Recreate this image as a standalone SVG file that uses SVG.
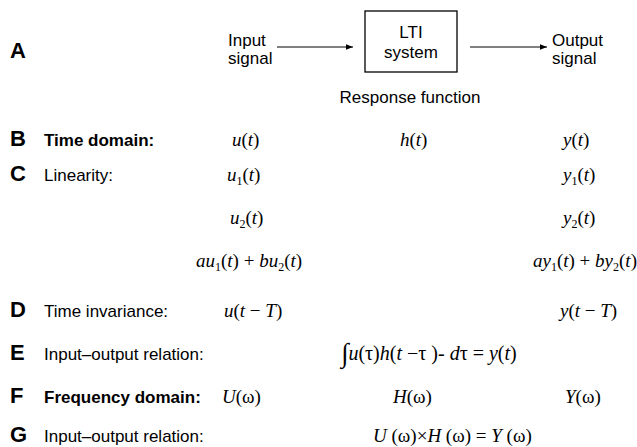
<svg xmlns="http://www.w3.org/2000/svg" width="637" height="447" viewBox="0 0 637 447">
<style>
.lbl{font-family:"Liberation Sans",Arial,sans-serif;font-size:22px;font-weight:bold;fill:#000}
.t{font-family:"Liberation Sans",Arial,sans-serif;font-size:17px;fill:#000}
.tb{font-family:"Liberation Sans",Arial,sans-serif;font-size:17px;font-weight:bold;fill:#000}
.m{font-family:"Liberation Serif","Times New Roman",serif;font-size:19px;fill:#000}
.i{font-style:italic}
.sub{font-size:12px}
.box{fill:#fff;stroke:#000;stroke-width:1.3}
.conn{stroke:#000;stroke-width:1;fill:none}
</style>
<defs>
<marker id="arr" viewBox="0 0 10 10" refX="10" refY="5" markerWidth="7" markerHeight="7" markerUnits="userSpaceOnUse" orient="auto">
<path d="M0,1 L10,5 L0,9 z" fill="#000"/>
</marker>
</defs>
<rect width="637" height="447" fill="#fff"/>

<text class="lbl" x="10" y="58">A</text>
<g id="input">
<text class="t" x="228" y="46">Input</text>
<text class="t" x="228" y="64">signal</text>
</g>
<g id="lti">
<rect class="box" x="365" y="11" width="92" height="61"/>
<text class="t" x="411" y="38" text-anchor="middle">LTI</text>
<text class="t" x="411" y="58" text-anchor="middle">system</text>
</g>
<g id="output">
<text class="t" x="552" y="46">Output</text>
<text class="t" x="552" y="64">signal</text>
</g>
<g id="connectors">
<line class="conn" x1="277" y1="47" x2="353" y2="47" marker-end="url(#arr)"/>
<line class="conn" x1="470" y1="47" x2="547" y2="47" marker-end="url(#arr)"/>
</g>
<text class="t" x="410" y="103" text-anchor="middle">Response function</text>

<text class="lbl" x="10" y="146">B</text>
<text class="tb" x="44" y="146">Time domain:</text>
<text class="m" x="232" y="146"><tspan class="i">u</tspan>(<tspan class="i">t</tspan>)</text>
<text class="m" x="400" y="146"><tspan class="i">h</tspan>(<tspan class="i">t</tspan>)</text>
<text class="m" x="563" y="146"><tspan class="i">y</tspan>(<tspan class="i">t</tspan>)</text>

<text class="lbl" x="10" y="181">C</text>
<text class="t" x="44" y="181">Linearity:</text>
<text class="m" x="227" y="181"><tspan class="i">u</tspan><tspan class="sub" dy="4">1</tspan><tspan dy="-4">(</tspan><tspan class="i">t</tspan>)</text>
<text class="m" x="563" y="181"><tspan class="i">y</tspan><tspan class="sub" dy="4">1</tspan><tspan dy="-4">(</tspan><tspan class="i">t</tspan>)</text>

<text class="m" x="230" y="224"><tspan class="i">u</tspan><tspan class="sub" dy="4">2</tspan><tspan dy="-4">(</tspan><tspan class="i">t</tspan>)</text>
<text class="m" x="563" y="224"><tspan class="i">y</tspan><tspan class="sub" dy="4">2</tspan><tspan dy="-4">(</tspan><tspan class="i">t</tspan>)</text>

<text class="m" x="196" y="267"><tspan class="i">au</tspan><tspan class="sub" dy="4">1</tspan><tspan dy="-4">(</tspan><tspan class="i">t</tspan>) + <tspan class="i">bu</tspan><tspan class="sub" dy="4">2</tspan><tspan dy="-4">(</tspan><tspan class="i">t</tspan>)</text>
<text class="m" x="533" y="267"><tspan class="i">ay</tspan><tspan class="sub" dy="4">1</tspan><tspan dy="-4">(</tspan><tspan class="i">t</tspan>) + <tspan class="i">by</tspan><tspan class="sub" dy="4">2</tspan><tspan dy="-4">(</tspan><tspan class="i">t</tspan>)</text>

<text class="lbl" x="10" y="317">D</text>
<text class="t" x="44" y="317">Time invariance:</text>
<text class="m" x="224" y="317"><tspan class="i">u</tspan>(<tspan class="i">t</tspan> − <tspan class="i">T</tspan>)</text>
<text class="m" x="560" y="317"><tspan class="i">y</tspan>(<tspan class="i">t</tspan> − <tspan class="i">T</tspan>)</text>

<text class="lbl" x="10" y="360">E</text>
<text class="t" x="44" y="360">Input–output relation:</text>
<text class="m" x="341" y="360" style="font-size:20px"><tspan style="font-size:27px" dy="2">∫</tspan><tspan class="i" dy="-2">u</tspan>(τ)<tspan class="i">h</tspan>(<tspan class="i">t</tspan> −τ )- <tspan class="i">d</tspan>τ  =  <tspan class="i">y</tspan>(<tspan class="i">t</tspan>)</text>

<text class="lbl" x="10" y="403">F</text>
<text class="tb" x="44" y="403">Frequency domain:</text>
<text class="m" x="222" y="403"><tspan class="i">U</tspan>(ω)</text>
<text class="m" x="393" y="403"><tspan class="i">H</tspan>(ω)</text>
<text class="m" x="565" y="403"><tspan class="i">Y</tspan>(ω)</text>

<text class="lbl" x="10" y="442">G</text>
<text class="t" x="44" y="442">Input–output relation:</text>
<text class="m" x="373" y="442"><tspan class="i">U</tspan> (ω)×<tspan class="i">H</tspan> (ω) = <tspan class="i">Y</tspan> (ω)</text>
</svg>
